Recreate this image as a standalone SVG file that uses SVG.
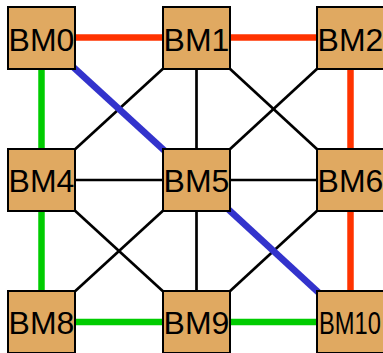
<svg xmlns="http://www.w3.org/2000/svg" width="383" height="353" viewBox="0 0 383 353">
<style>
.box{fill:#E0A961;stroke:#000;stroke-width:2}
.lbl{font-family:"Liberation Sans",Arial,sans-serif;font-size:32px;fill:#000;text-anchor:middle}
.k{stroke:#000;stroke-width:2.7;fill:none}
.r{stroke:#FF3300;stroke-width:6.5;fill:none}
.g{stroke:#00CC00;stroke-width:6.5;fill:none}
.b{stroke:#3333CC;stroke-width:6.5;fill:none}
</style>
<rect width="383" height="353" fill="#fff"/>
<g id="connectors">
<line class="k" x1="196.5" y1="38" x2="41.5" y2="180"/>
<line class="k" x1="196.5" y1="38" x2="196.5" y2="180"/>
<line class="k" x1="196.5" y1="38" x2="350.5" y2="180"/>
<line class="k" x1="350.5" y1="38" x2="196.5" y2="180"/>
<line class="k" x1="41.5" y1="180" x2="196.5" y2="180"/>
<line class="k" x1="196.5" y1="180" x2="350.5" y2="180"/>
<line class="k" x1="41.5" y1="180" x2="196.5" y2="322"/>
<line class="k" x1="196.5" y1="180" x2="41.5" y2="322"/>
<line class="k" x1="196.5" y1="180" x2="196.5" y2="322"/>
<line class="k" x1="350.5" y1="180" x2="196.5" y2="322"/>
<line class="r" x1="41.5" y1="37.5" x2="196.5" y2="37.5"/>
<line class="r" x1="196.5" y1="37.5" x2="350.5" y2="37.5"/>
<line class="r" x1="350.5" y1="38" x2="350.5" y2="180"/>
<line class="r" x1="350.5" y1="180" x2="350.5" y2="322"/>
<line class="g" x1="41.5" y1="38" x2="41.5" y2="180"/>
<line class="g" x1="41.5" y1="180" x2="41.5" y2="322"/>
<line class="g" x1="41.5" y1="322" x2="196.5" y2="322"/>
<line class="g" x1="196.5" y1="322" x2="350.5" y2="322"/>
<line class="b" x1="41.5" y1="38" x2="196.5" y2="180"/>
<line class="b" x1="196.5" y1="180" x2="350.5" y2="322"/>
</g>
<g id="BM0"><rect class="box" x="8" y="7" width="67" height="62"/><text class="lbl" x="41.5" y="50.5">BM0</text></g>
<g id="BM1"><rect class="box" x="163" y="7" width="67" height="62"/><text class="lbl" x="196.5" y="50.5">BM1</text></g>
<g id="BM2"><rect class="box" x="317" y="7" width="67" height="62"/><text class="lbl" x="350.5" y="50.5">BM2</text></g>
<g id="BM4"><rect class="box" x="8" y="149" width="67" height="62"/><text class="lbl" x="41.5" y="192">BM4</text></g>
<g id="BM5"><rect class="box" x="163" y="149" width="67" height="62"/><text class="lbl" x="196.5" y="192">BM5</text></g>
<g id="BM6"><rect class="box" x="317" y="149" width="67" height="62"/><text class="lbl" x="350.5" y="192">BM6</text></g>
<g id="BM8"><rect class="box" x="8" y="291" width="67" height="62"/><text class="lbl" x="41.5" y="334">BM8</text></g>
<g id="BM9"><rect class="box" x="163" y="291" width="67" height="62"/><text class="lbl" x="196.5" y="334">BM9</text></g>
<g id="BM10"><rect class="box" x="317" y="291" width="67" height="62"/><text class="lbl" x="350" y="334" textLength="62" lengthAdjust="spacingAndGlyphs">BM10</text></g>
</svg>
